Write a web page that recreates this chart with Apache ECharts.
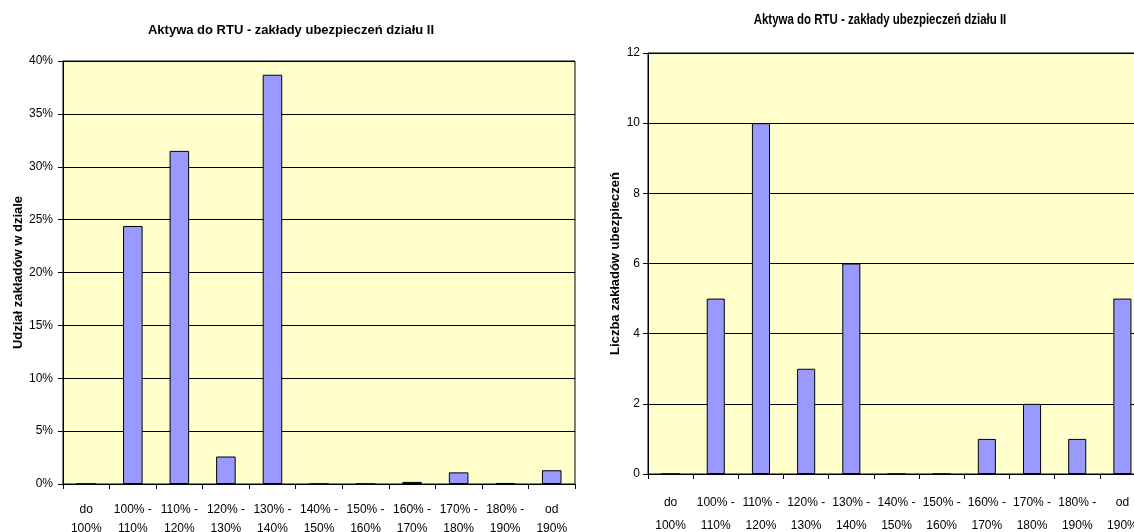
<!DOCTYPE html>
<html>
<head>
<meta charset="utf-8">
<script src="https://cdn.jsdelivr.net/npm/echarts@6/dist/echarts.min.js"></script>
<style>
html,body{margin:0;padding:0;background:#fff;}
#chart{width:1134px;height:532px;}
</style>
</head>
<body>
<div id="chart"></div>
<script>
const categories = ['do\n100%', '100% -\n110%', '110% -\n120%', '120% -\n130%', '130% -\n140%', '140% -\n150%', '150% -\n160%', '160% -\n170%', '170% -\n180%', '180% -\n190%', 'od\n190%'];
const shareValues = [0, 24.4, 31.5, 2.6, 38.7, 0, 0, 0.2, 1.1, 0.1, 1.3];
const countValues = [0, 5, 10, 3, 6, 0, 0, 1, 2, 1, 5];
const titleText = 'Aktywa do RTU - zakłady ubezpieczeń działu II';
const leftAxisName = 'Udział zakładów w dziale';
const rightAxisName = 'Liczba zakładów ubezpieczeń';

const FONT = "'Liberation Sans', Arial, sans-serif";

const chart = echarts.init(document.getElementById('chart'), null, {renderer: 'canvas'});

function xAxisCfg(gridIndex, lineHeight, margin) {
  return {
    type: 'category', gridIndex, data: categories, boundaryGap: true,
    axisLine: {show: true, onZero: false, lineStyle: {color: '#000', width: 1}},
    axisTick: {show: true, alignWithLabel: false, inside: false, length: 5, lineStyle: {color: '#000'}},
    axisLabel: {interval: 0, color: '#000', fontFamily: FONT, fontSize: 12, lineHeight, margin},
    splitLine: {show: false}
  };
}
function yAxisCfg(gridIndex, max, interval, fmt, name, nameGap, margin) {
  return {
    type: 'value', gridIndex, min: 0, max, interval,
    name, nameLocation: 'middle', nameGap, nameRotate: 90,
    nameTextStyle: {color: '#000', fontFamily: FONT, fontSize: 13, fontWeight: 'bold'},
    axisLine: {show: true, lineStyle: {color: '#000', width: 1}},
    axisTick: {show: true, inside: false, length: 5, lineStyle: {color: '#000'}},
    axisLabel: {color: '#000', fontFamily: FONT, fontSize: 12, margin, formatter: fmt},
    splitLine: {show: true, lineStyle: {color: '#000', width: 1}}
  };
}

chart.setOption({
  animation: false,
  backgroundColor: '#ffffff',
  title: [
    {text: titleText, left: 291, top: 24, textAlign: 'center', padding: 0,
     textStyle: {fontFamily: FONT, fontSize: 13, fontWeight: 'bold', color: '#000'}}
  ],
  graphic: [
    {type: 'text', x: 880, y: 20, scaleX: 0.82, silent: true,
     style: {text: titleText, font: "bold 14px 'Liberation Sans', Arial, sans-serif", fill: '#000',
             textAlign: 'center', textVerticalAlign: 'middle'}}
  ],
  grid: [
    {left: 63, top: 61, width: 512, height: 423, show: true, backgroundColor: '#FFFFCC', borderColor: '#000', borderWidth: 1, containLabel: false, outerBoundsMode: 'none'},
    {left: 648, top: 53, width: 497, height: 421, show: true, backgroundColor: '#FFFFCC', borderColor: '#000', borderWidth: 1, containLabel: false, outerBoundsMode: 'none'}
  ],
  xAxis: [xAxisCfg(0, 19, 16), xAxisCfg(1, 23, 17)],
  yAxis: [
    yAxisCfg(0, 40, 5, '{value}%', leftAxisName, 35, 10),
    yAxisCfg(1, 12, 2, '{value}', rightAxisName, 26, 8)
  ],
  series: [
    {type: 'bar', xAxisIndex: 0, yAxisIndex: 0, data: shareValues, barWidth: '42%',
     itemStyle: {color: '#9999FF', borderColor: '#000', borderWidth: 1}},
    {type: 'bar', xAxisIndex: 1, yAxisIndex: 1, data: countValues, barWidth: '40%',
     itemStyle: {color: '#9999FF', borderColor: '#000', borderWidth: 1}}
  ]
});
</script>
</body>
</html>
